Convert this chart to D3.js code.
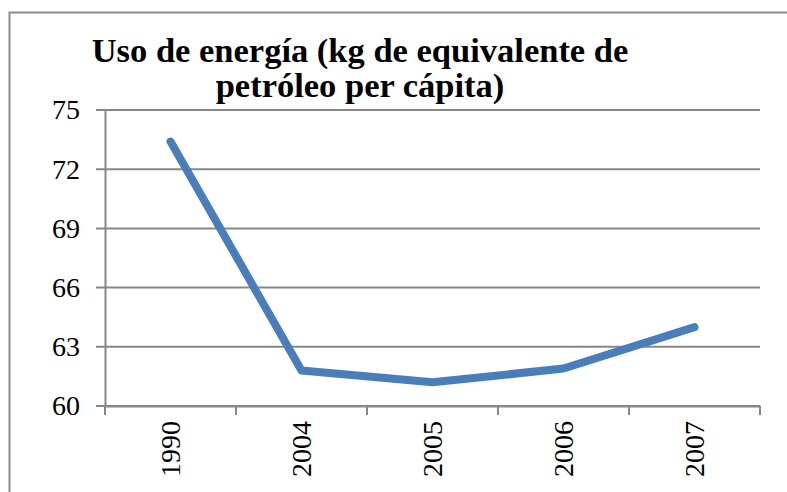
<!DOCTYPE html>
<html>
<head>
<meta charset="utf-8">
<script src="https://cdn.jsdelivr.net/npm/d3@7"></script>
<style>
  body { margin: 0; background: #fff; }
</style>
</head>
<body>
<script>
// Chart data
const years = ["1990", "2004", "2005", "2006", "2007"];
const energyUse = [73.4, 61.8, 61.2, 61.9, 64.0];
const yTicks = [60, 63, 66, 69, 72, 75];
const titleLines = ["Uso de energía (kg de equivalente de", "petróleo per cápita)"];

const width = 787;
const height = 492;
const margin = { top: 110, right: 27, bottom: 86, left: 105 };

const svg = d3.select("body").append("svg")
    .attr("width", width)
    .attr("height", height);

// Outer chart border (runs off the right and bottom edges)
svg.append("rect")
    .attr("x", 9.5)
    .attr("y", 12.5)
    .attr("width", 800)
    .attr("height", 500)
    .attr("fill", "none")
    .attr("stroke", "#8c8c8c")
    .attr("stroke-width", 2);

const x = d3.scaleBand()
    .domain(years)
    .range([margin.left, width - margin.right]);

const y = d3.scaleLinear()
    .domain([60, 75])
    .range([height - margin.bottom, margin.top]);

const gridColor = "#878787";
const font = "'Liberation Serif', 'DejaVu Serif', serif";

// Horizontal gridlines
svg.append("g")
    .selectAll("line")
    .data(yTicks)
    .join("line")
    .attr("x1", margin.left - 9)
    .attr("x2", width - margin.right)
    .attr("y1", d => y(d))
    .attr("y2", d => y(d))
    .attr("stroke", gridColor)
    .attr("stroke-width", 2);

// Y axis
const yAxis = svg.append("g")
    .attr("transform", `translate(${margin.left},0)`)
    .call(d3.axisLeft(y).tickValues(yTicks).tickSize(0).tickPadding(25));
yAxis.select(".domain").attr("stroke", gridColor).attr("stroke-width", 2);
yAxis.selectAll("text")
    .attr("font-family", font)
    .attr("font-size", 28)
    .attr("fill", "#000");

// X axis
const xAxis = svg.append("g")
    .attr("transform", `translate(0,${y(60)})`)
    .call(d3.axisBottom(x).tickSize(0));
xAxis.select(".domain").attr("stroke", gridColor).attr("stroke-width", 2);
xAxis.selectAll("text")
    .attr("font-family", font)
    .attr("font-size", 28)
    .attr("fill", "#000")
    .attr("transform", "rotate(-90)")
    .attr("text-anchor", "end")
    .attr("dx", "-15")
    .attr("dy", "0.35em")
    .attr("y", 0)
    .attr("x", 0);
xAxis.selectAll(".tick").attr("transform", d => `translate(${x(d) + x.bandwidth() / 2},0)`);

// Category boundary ticks below the axis
const bounds = years.map(d => x(d)).concat([x(years[years.length - 1]) + x.bandwidth()]);
svg.append("g")
    .selectAll("line")
    .data(bounds)
    .join("line")
    .attr("x1", d => d)
    .attr("x2", d => d)
    .attr("y1", y(60))
    .attr("y2", y(60) + 9)
    .attr("stroke", gridColor)
    .attr("stroke-width", 2);

// Data line
const line = d3.line()
    .x((d, i) => x(years[i]) + x.bandwidth() / 2)
    .y(d => y(d));

svg.append("path")
    .datum(energyUse)
    .attr("d", line)
    .attr("fill", "none")
    .attr("stroke", "#4a7ebb")
    .attr("stroke-width", 8)
    .attr("stroke-linecap", "round")
    .attr("stroke-linejoin", "round");

// Title
svg.append("text")
    .attr("x", 360)
    .attr("y", 62)
    .attr("text-anchor", "middle")
    .attr("font-family", font)
    .attr("font-weight", "bold")
    .attr("font-size", 34.5)
    .selectAll("tspan")
    .data(titleLines)
    .join("tspan")
    .attr("x", 360)
    .attr("dy", (d, i) => i === 0 ? 0 : 35)
    .text(d => d);
</script>
</body>
</html>
